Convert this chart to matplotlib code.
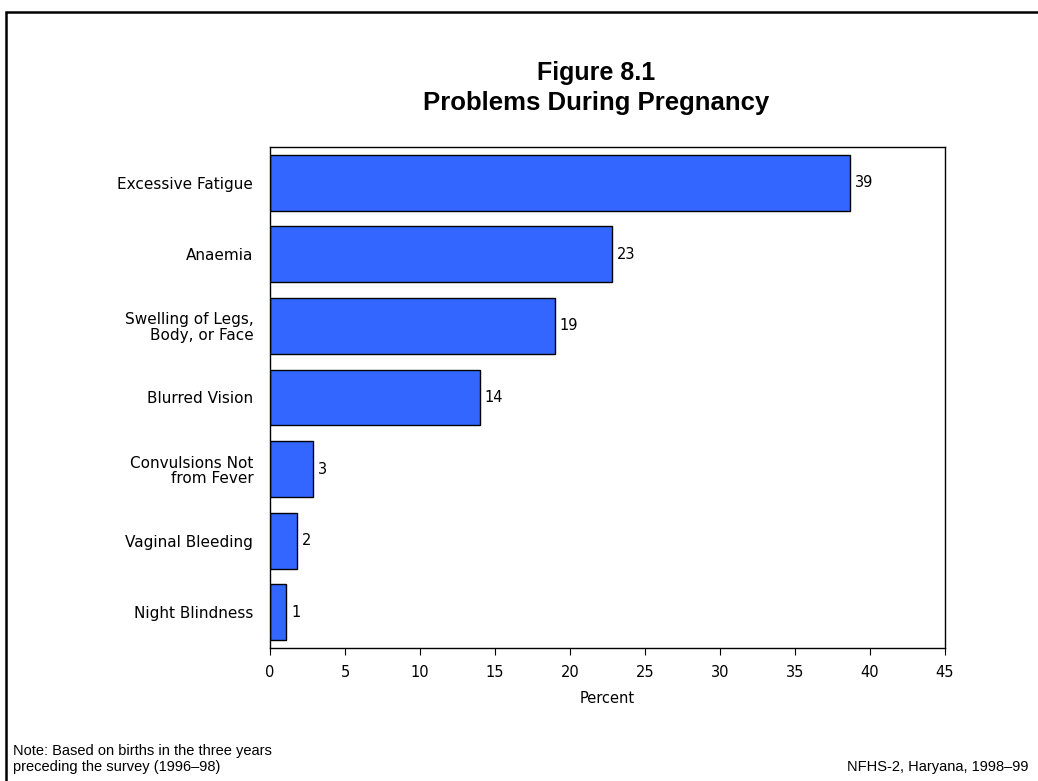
import matplotlib
matplotlib.use("Agg")
import matplotlib.pyplot as plt
from matplotlib.patches import Rectangle

categories = ["Excessive Fatigue", "Anaemia", "Swelling of Legs,\nBody, or Face",
              "Blurred Vision", "Convulsions Not\nfrom Fever", "Vaginal Bleeding",
              "Night Blindness"]
values = [38.7, 22.8, 19.0, 14.0, 2.9, 1.8, 1.1]
labels = ["39", "23", "19", "14", "3", "2", "1"]
xticks = [0, 5, 10, 15, 20, 25, 30, 35, 40, 45]

plt.rcParams['font.family'] = ['Liberation Sans', 'DejaVu Sans']
axfont = ['DejaVu Sans']

fig = plt.figure(figsize=(10.38, 7.81), dpi=100)
ax = fig.add_axes([0.2601, 0.1703, 0.6503, 0.6415])

ypos = list(range(len(categories)))
ax.barh(ypos, values, height=0.78, color="#3366FF", edgecolor="black", linewidth=1.0)
for y, v, l in zip(ypos, values, labels):
    ax.text(v + 0.3, y, l, va="center", ha="left", fontsize=10.5, family=axfont)

ax.set_ylim(len(categories) - 0.5, -0.5)
ax.set_xlim(0, 45)
ax.set_xticks(xticks)
ax.set_xticklabels([str(t) for t in xticks], fontsize=10.5, family=axfont)
ax.set_yticks(ypos)
ax.set_yticklabels(categories, fontsize=11, linespacing=1.02, family=axfont)
ax.tick_params(axis="y", length=0, pad=12)
ax.tick_params(axis="x", direction="out", length=5, pad=7.5)
ax.set_xlabel("Percent", fontsize=10.5, labelpad=8, family=axfont)
for s in ax.spines.values():
    s.set_linewidth(1.0)

fig.text(0.574, 0.907, "Figure 8.1", ha="center", va="center", fontsize=18, fontweight="bold")
fig.text(0.574, 0.868, "Problems During Pregnancy", ha="center", va="center", fontsize=18.5, fontweight="bold")

fig.text(0.0125, 0.0333, "Note: Based on births in the three years",
         ha="left", va="baseline", fontsize=10.5)
fig.text(0.0125, 0.0128, "preceding the survey (1996\u201398)",
         ha="left", va="baseline", fontsize=10.5)
fig.text(0.991, 0.0128, "NFHS-2, Haryana, 1998\u201399", ha="right", va="baseline", fontsize=10.5)

fig.patches.append(Rectangle((0.0055, -0.05), 1.1, 0.05 + 1 - 0.016, transform=fig.transFigure,
                             fill=False, edgecolor="black", linewidth=1.8))

fig.savefig("out.png", dpi=100)
